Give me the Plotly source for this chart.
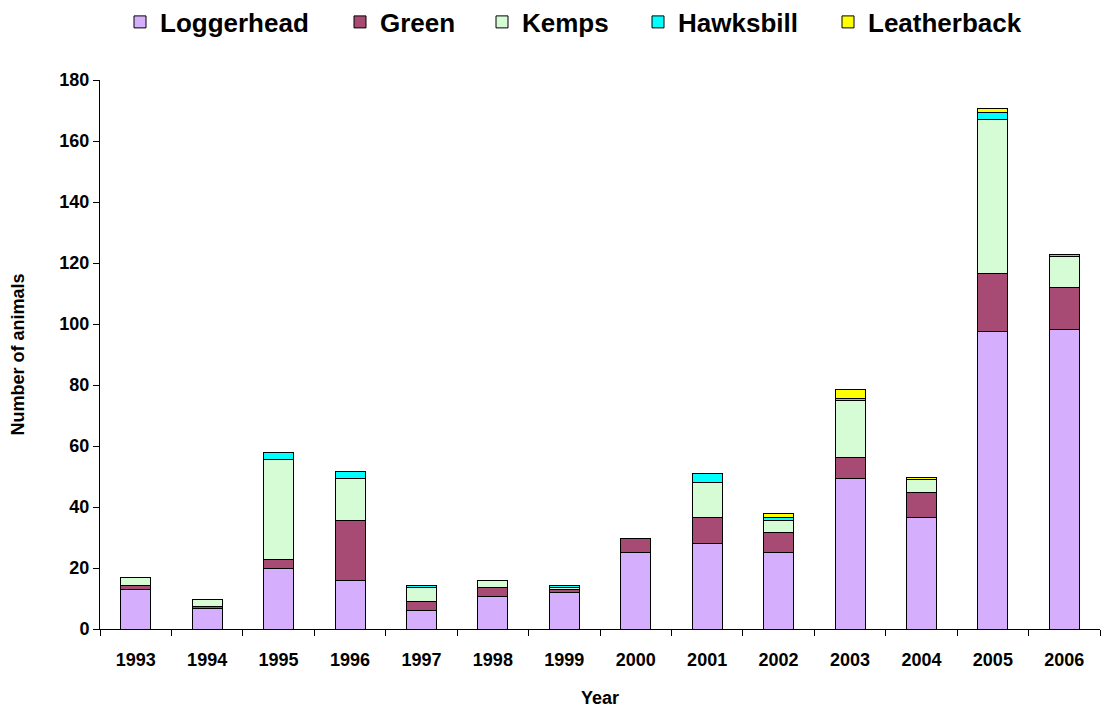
import plotly.graph_objects as go

years = ["1993","1994","1995","1996","1997","1998","1999","2000","2001","2002","2003","2004","2005","2006"]
loggerhead = [12.8, 6.8, 19.7, 16.0, 6.0, 10.5, 12.0, 25.0, 28.0, 25.0, 49.5, 36.6, 97.6, 98.3]
green      = [1.6, 0.7, 3.2, 19.7, 3.0, 3.2, 1.0, 4.7, 8.5, 6.8, 6.8, 8.3, 19.0, 13.7]
kemps      = [2.4, 2.3, 32.7, 13.7, 4.6, 2.3, 0.7, 0.0, 11.4, 3.7, 18.5, 4.0, 50.5, 10.0]
hawksbill  = [0.0, 0.0, 2.3, 2.4, 0.7, 0.0, 0.7, 0.0, 3.0, 0.9, 0.7, 0.0, 2.2, 0.7]
leatherback= [0.0, 0.0, 0.0, 0.0, 0.0, 0.0, 0.0, 0.0, 0.0, 1.6, 3.1, 0.7, 1.4, 0.0]

series = [
    ("Loggerhead", loggerhead, "#D6AEFE"),
    ("Green", green, "#A84B74"),
    ("Kemps", kemps, "#D6FCD6"),
    ("Hawksbill", hawksbill, "#00FFFF"),
    ("Leatherback", leatherback, "#FFFF00"),
]
# legend entry left positions (figure pixels)
legend_left = [112, 332, 474, 630, 820]

W, H = 1115, 709
font_fam = "Liberation Sans, Arial, sans-serif"

fig = go.Figure()
legend_layout = {}
for i, (name, vals, col) in enumerate(series):
    lname = "legend" if i == 0 else f"legend{i+1}"
    fig.add_trace(go.Bar(
        x=years, y=vals, name=name, legend=lname,
        marker=dict(color=col, line=dict(color="black", width=1)),
    ))
    legend_layout[lname] = dict(
        orientation="h", xref="container", yref="container",
        x=legend_left[i] / W, xanchor="left",
        y=1 - 14 / H, yanchor="middle",
        font=dict(size=26, family=font_fam, weight="bold"),
        itemwidth=30, bgcolor="rgba(0,0,0,0)",
    )

fig.update_layout(
    barmode="stack",
    bargap=0.58,
    width=W, height=H,
    margin=dict(l=92, r=23, t=72, b=88),
    paper_bgcolor="white", plot_bgcolor="white",
    font=dict(family=font_fam, color="black"),
    showlegend=True,
    **legend_layout,
)
fig.update_xaxes(
    automargin=False,
    showline=True, linecolor="black", linewidth=1,
    ticks="outside", tickson="boundaries", ticklen=6, tickcolor="black",
    ticklabelstandoff=14,
    tickfont=dict(size=18, family=font_fam, weight="bold"),
    title=dict(text="Year", font=dict(size=18, family=font_fam, weight="bold"), standoff=22),
    showgrid=False,
)
fig.update_yaxes(
    automargin=False,
    range=[0, 180], dtick=20,
    showline=True, linecolor="black", linewidth=1,
    ticks="outside", ticklen=6, tickcolor="black",
    tickfont=dict(size=18, family=font_fam, weight="bold"),
    title=dict(text="Number of animals", font=dict(size=18, family=font_fam, weight="bold"), standoff=30),
    showgrid=False, zeroline=False,
)

fig.write_html("out.html")
